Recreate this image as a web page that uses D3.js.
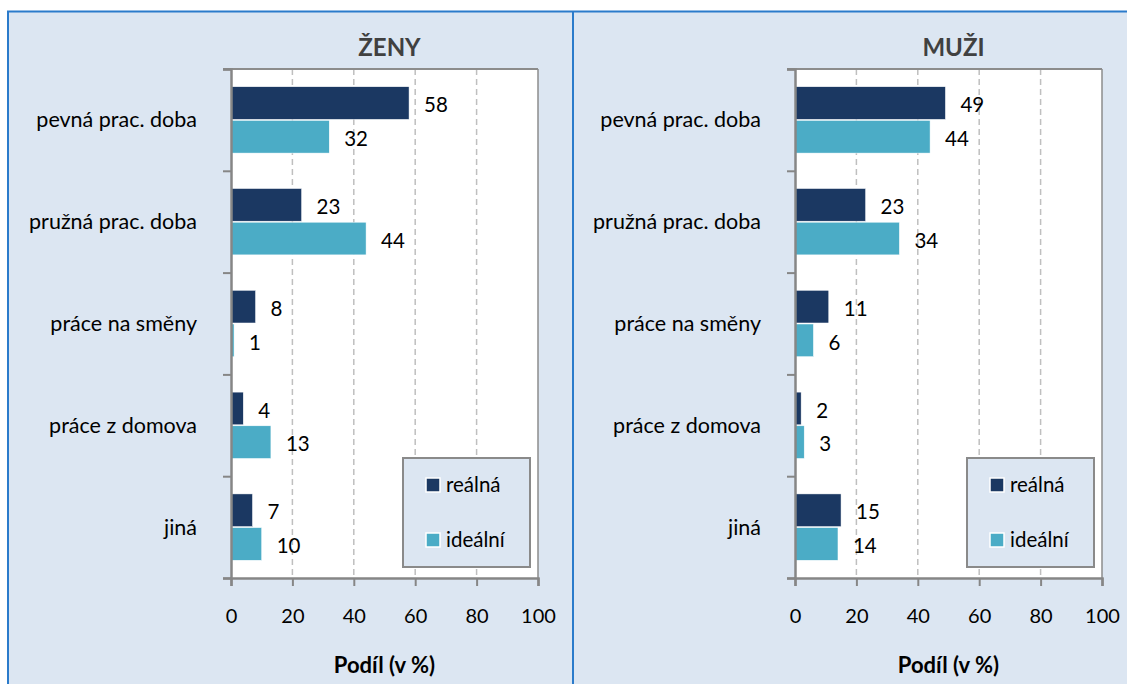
<!DOCTYPE html>
<html>
<head>
<meta charset="utf-8">
<script src="https://cdn.jsdelivr.net/npm/d3@7"></script>
<style>
  body { margin: 0; background: #fff; }
  svg { display: block; font-family: Lato, "Open Sans", sans-serif; }
</style>
</head>
<body>
<div id="chart"></div>
<script>
const categories = ["pevná prac. doba", "pružná prac. doba", "práce na směny", "práce z domova", "jiná"]
const seriesNames = ["reálná", "ideální"]
const zenyReal = [58, 23, 8, 4, 7]
const zenyIdeal = [32, 44, 1, 13, 10]
const muziReal = [49, 23, 11, 2, 15]
const muziIdeal = [44, 34, 6, 3, 14]
const xTicks = [0, 20, 40, 60, 80, 100]

const colors = ["#1b3862", "#4bacc6"]
const W = 1127, H = 684

const svg = d3.select("#chart").append("svg")
    .attr("width", W).attr("height", H)

// panels background + blue frame
svg.append("rect").attr("x", 8).attr("y", 11.5).attr("width", W).attr("height", H)
    .attr("fill", "#dce6f2").attr("stroke", "#2b7bcb").attr("stroke-width", 2)
svg.append("line").attr("x1", 573).attr("x2", 573).attr("y1", 11.5).attr("y2", H)
    .attr("stroke", "#2b7bcb").attr("stroke-width", 2)

function drawPanel(left, title, real, ideal) {
    const pw = 307, ph = 509
    const g = svg.append("g").attr("transform", `translate(${left}, 69)`)

    const x = d3.scaleLinear().domain([0, 100]).range([0, pw])
    const y = d3.scaleBand().domain(categories).range([0, ph])
    const ys = d3.scaleBand().domain(seriesNames)
        .range([y.bandwidth() * 0.174, y.bandwidth() * 0.826]).paddingInner(0.03)

    g.append("rect").attr("width", pw).attr("height", ph).attr("fill", "#fff")

    // dashed grid
    g.selectAll(".grid").data(xTicks.slice(1, -1)).enter().append("line")
        .attr("x1", d => x(d)).attr("x2", d => x(d))
        .attr("y1", 0).attr("y2", ph)
        .attr("stroke", "#bfbfbf").attr("stroke-width", 1.5)
        .attr("stroke-dasharray", "6,4")

    // top and right border
    g.append("line").attr("x1", -8).attr("x2", pw).attr("y1", 0).attr("y2", 0)
        .attr("stroke", "#8c8c8c").attr("stroke-width", 2)
    g.append("line").attr("x1", pw).attr("x2", pw).attr("y1", 0).attr("y2", ph)
        .attr("stroke", "#8c8c8c").attr("stroke-width", 1.5)

    const rows = categories.map((c, i) => ({ cat: c, values: [real[i], ideal[i]] }))

    const grp = g.selectAll(".row").data(rows).enter().append("g")
        .attr("transform", d => `translate(0, ${y(d.cat)})`)

    grp.selectAll("rect").data(d => d.values.map((v, j) => ({ s: seriesNames[j], v, j })))
        .enter().append("rect")
        .attr("x", 0).attr("y", d => ys(d.s))
        .attr("width", d => x(d.v)).attr("height", ys.bandwidth())
        .attr("fill", d => colors[d.j])
        .attr("stroke", "#fff").attr("stroke-width", 0.5)

    grp.selectAll("text").data(d => d.values.map((v, j) => ({ s: seriesNames[j], v, j })))
        .enter().append("text")
        .attr("x", d => x(d.v) + 15)
        .attr("y", d => ys(d.s) + ys.bandwidth() / 2 + 2)
        .attr("dy", "0.35em")
        .attr("font-size", 20.5).attr("fill", "#000")
        .text(d => d.v)

    // category axis
    const yb = d3.scaleLinear().domain([0, categories.length]).range([0, ph])
    const ya = g.append("g")
        .call(d3.axisLeft(yb).tickValues(d3.range(categories.length + 1)).tickSize(8).tickFormat(""))
    ya.select(".domain").attr("stroke", "#868686").attr("stroke-width", 2.5)
    ya.selectAll(".tick line").attr("stroke", "#868686").attr("stroke-width", 2)

    g.selectAll(".cat").data(categories).enter().append("text")
        .attr("x", -34).attr("y", d => y(d) + y.bandwidth() / 2)
        .attr("dy", "0.35em").attr("text-anchor", "end")
        .attr("font-size", 21.5).attr("fill", "#000")
        .text(d => d)

    // value axis
    const xa = g.append("g").attr("transform", `translate(0, ${ph})`)
        .call(d3.axisBottom(x).tickValues(xTicks).tickSize(8).tickPadding(23))
    xa.select(".domain").attr("stroke", "#868686").attr("stroke-width", 2.5)
    xa.selectAll(".tick line").attr("stroke", "#868686").attr("stroke-width", 2)
    xa.selectAll("text").attr("font-size", 20).attr("fill", "#000")
        .attr("font-family", "Lato, sans-serif")

    g.append("text").attr("x", pw / 2).attr("y", ph + 95)
        .attr("text-anchor", "middle").attr("font-size", 22).attr("font-weight", "bold")
        .attr("fill", "#000").text("Podíl (v %)")

    g.append("text").attr("x", pw / 2 + 5).attr("y", -13)
        .attr("text-anchor", "middle").attr("font-size", 24).attr("font-weight", "bold")
        .attr("fill", "#404040").text(title)

    // legend
    const lg = g.append("g").attr("transform", "translate(172, 389)")
    lg.append("rect").attr("width", 127).attr("height", 109)
        .attr("fill", "#dce6f2").attr("stroke", "#8a8a8a").attr("stroke-width", 2)
    seriesNames.forEach((s, j) => {
        const yy = 27 + j * 55
        lg.append("rect").attr("x", 23).attr("y", yy - 7).attr("width", 14).attr("height", 14)
            .attr("fill", colors[j]).attr("stroke", "#fff").attr("stroke-width", 1.5)
        lg.append("text").attr("x", 43).attr("y", yy).attr("dy", "0.35em")
            .attr("font-size", 20.5).attr("fill", "#000").text(s)
    })
}

drawPanel(231, "ŽENY", zenyReal, zenyIdeal)
drawPanel(795, "MUŽI", muziReal, muziIdeal)
</script>
</body>
</html>
